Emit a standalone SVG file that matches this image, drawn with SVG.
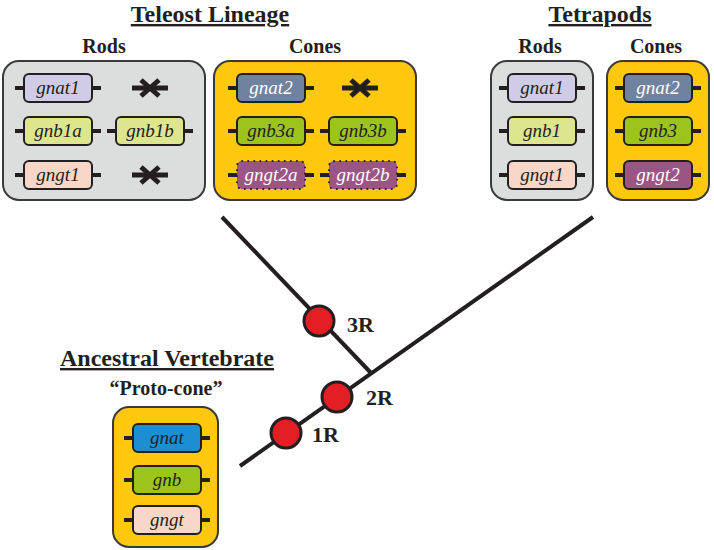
<svg xmlns="http://www.w3.org/2000/svg" width="714" height="550" viewBox="0 0 714 550">
<style>
.title{font-family:"Liberation Serif","Times New Roman",serif;font-weight:bold;font-size:24px;fill:#231f20;text-anchor:middle;text-decoration:underline}
.sub{font-family:"Liberation Serif","Times New Roman",serif;font-weight:bold;font-size:20px;fill:#231f20;text-anchor:middle}
.lbl{font-family:"Liberation Serif","Times New Roman",serif;font-weight:bold;font-size:22px;fill:#231f20}
.gt{font-family:"Liberation Serif","Times New Roman",serif;font-style:italic;font-size:19px;text-anchor:middle;fill:#231f20}
.wt{fill:#ffffff}
.rodbox{fill:#dcdddd;stroke:#3a3a3a;stroke-width:2}
.conebox{fill:#fdc80e;stroke:#3a3a3a;stroke-width:2}
.gene{stroke:#231f20;stroke-width:2}
.dot{stroke:#231f20;stroke-width:2;stroke-dasharray:0.1 6;stroke-linecap:round}
.stub{stroke:#231f20;stroke-width:4}
.branch{stroke:#231f20;stroke-width:4;fill:none}
.wgd{fill:#e31e24;stroke:#231f20;stroke-width:3}
.x{stroke:#231f20;stroke-width:5;stroke-linecap:butt}
</style>
<defs>
<g id="stubs"><line class="stub" x1="-9" y1="0" x2="0" y2="0"/><line class="stub" x1="68" y1="0" x2="77" y2="0"/></g>
<g id="lost"><line class="x" x1="-18" y1="0" x2="18" y2="0"/><line class="x" x1="-9" y1="-8" x2="9" y2="8"/><line class="x" x1="-9" y1="8" x2="9" y2="-8"/></g>
</defs>

<text class="title" x="210" y="22">Teleost Lineage</text>
<text class="title" x="600" y="22">Tetrapods</text>
<text class="sub" x="104" y="53">Rods</text>
<text class="sub" x="315" y="53">Cones</text>
<text class="sub" x="540" y="53">Rods</text>
<text class="sub" x="656" y="53">Cones</text>

<g id="teleost-rods">
<rect class="rodbox" x="3" y="61" width="202" height="139" rx="16"/>
<g transform="translate(24,88)"><use href="#stubs"/><rect class="gene" x="0" y="-14" width="68" height="28" rx="5" fill="#d0cce8"/><text class="gt" x="34" y="6">gnat1</text></g>
<g transform="translate(150,88)"><use href="#lost"/></g>
<g transform="translate(24,131)"><use href="#stubs"/><rect class="gene" x="0" y="-14" width="68" height="28" rx="5" fill="#dde58f"/><text class="gt" x="34" y="6">gnb1a</text></g>
<g transform="translate(116,131)"><use href="#stubs"/><rect class="gene" x="0" y="-14" width="68" height="28" rx="5" fill="#dde58f"/><text class="gt" x="34" y="6">gnb1b</text></g>
<g transform="translate(24,175)"><use href="#stubs"/><rect class="gene" x="0" y="-14" width="68" height="28" rx="5" fill="#f9d7c8"/><text class="gt" x="34" y="6">gngt1</text></g>
<g transform="translate(150,175)"><use href="#lost"/></g>
</g>

<g id="teleost-cones">
<rect class="conebox" x="214" y="61" width="202" height="139" rx="16"/>
<g transform="translate(237,88)"><use href="#stubs"/><rect class="gene" x="0" y="-14" width="68" height="28" rx="5" fill="#6f82a0"/><text class="gt wt" x="34" y="6">gnat2</text></g>
<g transform="translate(360,88)"><use href="#lost"/></g>
<g transform="translate(237,131)"><use href="#stubs"/><rect class="gene" x="0" y="-14" width="68" height="28" rx="5" fill="#9dc41b"/><text class="gt" x="34" y="6">gnb3a</text></g>
<g transform="translate(329,131)"><use href="#stubs"/><rect class="gene" x="0" y="-14" width="68" height="28" rx="5" fill="#9dc41b"/><text class="gt" x="34" y="6">gnb3b</text></g>
<g transform="translate(237,175)"><use href="#stubs"/><rect class="dot" x="0" y="-14" width="68" height="28" rx="5" fill="#9b5584"/><text class="gt wt" x="34" y="6">gngt2a</text></g>
<g transform="translate(329,175)"><use href="#stubs"/><rect class="dot" x="0" y="-14" width="68" height="28" rx="5" fill="#9b5584"/><text class="gt wt" x="34" y="6">gngt2b</text></g>
</g>

<g id="tetrapod-rods">
<rect class="rodbox" x="491" y="61" width="102" height="139" rx="16"/>
<g transform="translate(508,88)"><use href="#stubs"/><rect class="gene" x="0" y="-14" width="68" height="28" rx="5" fill="#d0cce8"/><text class="gt" x="34" y="6">gnat1</text></g>
<g transform="translate(508,131)"><use href="#stubs"/><rect class="gene" x="0" y="-14" width="68" height="28" rx="5" fill="#dde58f"/><text class="gt" x="34" y="6">gnb1</text></g>
<g transform="translate(508,175)"><use href="#stubs"/><rect class="gene" x="0" y="-14" width="68" height="28" rx="5" fill="#f9d7c8"/><text class="gt" x="34" y="6">gngt1</text></g>
</g>

<g id="tetrapod-cones">
<rect class="conebox" x="607" y="61" width="102" height="139" rx="16"/>
<g transform="translate(624,88)"><use href="#stubs"/><rect class="gene" x="0" y="-14" width="68" height="28" rx="5" fill="#6f82a0"/><text class="gt wt" x="34" y="6">gnat2</text></g>
<g transform="translate(624,131)"><use href="#stubs"/><rect class="gene" x="0" y="-14" width="68" height="28" rx="5" fill="#9dc41b"/><text class="gt" x="34" y="6">gnb3</text></g>
<g transform="translate(624,175)"><use href="#stubs"/><rect class="gene" x="0" y="-14" width="68" height="28" rx="5" fill="#9b5584"/><text class="gt wt" x="34" y="6">gngt2</text></g>
</g>

<g id="connectors">
<line class="branch" x1="222" y1="217" x2="372" y2="374"/>
<line class="branch" x1="593" y1="217" x2="240" y2="466"/>
</g>

<g id="wgd-3R"><circle class="wgd" cx="319" cy="321" r="15"/><text class="lbl" x="347" y="332">3R</text></g>
<g id="wgd-2R"><circle class="wgd" cx="337" cy="397" r="15"/><text class="lbl" x="366" y="405">2R</text></g>
<g id="wgd-1R"><circle class="wgd" cx="286" cy="433" r="15"/><text class="lbl" x="312" y="442">1R</text></g>

<text class="title" x="167" y="366">Ancestral Vertebrate</text>
<text class="sub" x="166" y="395">“Proto-cone”</text>

<g id="ancestral">
<rect class="conebox" x="113" y="407" width="105" height="140" rx="16"/>
<g transform="translate(133,438)"><use href="#stubs"/><rect class="gene" x="0" y="-14" width="68" height="28" rx="5" fill="#1d8ecf"/><text class="gt" x="34" y="6">gnat</text></g>
<g transform="translate(133,480)"><use href="#stubs"/><rect class="gene" x="0" y="-14" width="68" height="28" rx="5" fill="#9dc41b"/><text class="gt" x="34" y="6">gnb</text></g>
<g transform="translate(133,520)"><use href="#stubs"/><rect class="gene" x="0" y="-14" width="68" height="28" rx="5" fill="#f9d7c8"/><text class="gt" x="34" y="6">gngt</text></g>
</g>
</svg>
